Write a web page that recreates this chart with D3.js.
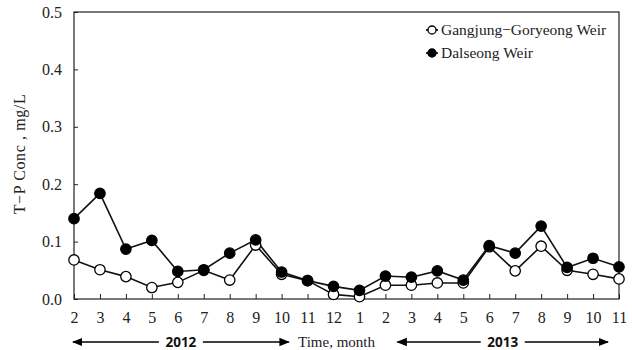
<!DOCTYPE html>
<html><head><meta charset="utf-8">
<script src="https://cdn.jsdelivr.net/npm/d3@7"></script>
<style>body{margin:0;background:#fff}svg{display:block}</style>
</head><body>
<svg id="c" width="632" height="350"></svg>
<script>
const months = ["2","3","4","5","6","7","8","9","10","11","12","1","2","3","4","5","6","7","8","9","10","11"];
const gangjung = [0.068,0.051,0.039,0.020,0.029,0.050,0.033,0.094,0.043,0.032,0.008,0.004,0.024,0.024,0.028,0.028,0.091,0.049,0.092,0.050,0.043,0.035];
const dalseong = [0.140,0.184,0.087,0.102,0.048,0.051,0.080,0.103,0.047,0.032,0.022,0.015,0.040,0.038,0.049,0.033,0.093,0.080,0.127,0.055,0.071,0.056];
const yTicks = [0,0.1,0.2,0.3,0.4,0.5];
const seriesNames = ["Gangjung\u2212Goryeong Weir","Dalseong Weir"];
const years = [{label:"2012", from:0, to:8.2},{label:"2013", from:12.5, to:20.5}];

const svg = d3.select("#c");
const L=74,R=619,T=12,B=299;
const x = d3.scaleLinear().domain([0,months.length-1]).range([L,R]);
const y = d3.scaleLinear().domain([0,0.5]).range([B,T]);
const serif = "'Liberation Serif','DejaVu Serif',serif";

// frame
svg.append("rect").attr("x",L).attr("y",T).attr("width",R-L).attr("height",B-T)
  .attr("fill","none").attr("stroke","#222").attr("stroke-width",1.2);

// y axis
const ya = svg.append("g").attr("transform",`translate(${L},0)`)
  .call(d3.axisRight(y).tickValues(yTicks).tickSize(4).tickFormat(d3.format(".1f")));
ya.select(".domain").remove();
ya.selectAll("line").attr("stroke","#222");
ya.selectAll("text").attr("x",-12).attr("text-anchor","end").attr("font-family",serif)
  .attr("font-size",16).attr("fill","#222");

// x axis
const xa = svg.append("g").attr("transform",`translate(0,${B})`)
  .call(d3.axisTop(x).tickValues(d3.range(months.length)).tickSize(5).tickFormat(i=>months[i]));
xa.select(".domain").remove();
xa.selectAll("line").attr("stroke","#222");
xa.selectAll("text").attr("y",24).attr("dy","0").attr("font-family",serif)
  .attr("font-size",16).attr("fill","#222");

// y title
svg.append("text").attr("transform","translate(25,154) rotate(-90)")
  .attr("text-anchor","middle").attr("font-family",serif).attr("font-size",16)
  .attr("letter-spacing",0.6).attr("fill","#222")
  .text("T\u2212P  Conc , mg/L");

// lines
const line = d3.line().x((d,i)=>x(i)).y(d=>y(d));
[dalseong,gangjung].forEach(data=>{
  svg.append("path").datum(data).attr("d",line).attr("fill","none").attr("stroke","#111").attr("stroke-width",1.6);
});
[[gangjung,"#fff"],[dalseong,"#000"]].forEach(([data,fill])=>{
  svg.append("g").selectAll("circle").data(data).join("circle")
    .attr("cx",(d,i)=>x(i)).attr("cy",d=>y(d)).attr("r",5.2)
    .attr("fill",fill).attr("stroke","#000").attr("stroke-width",1.3);
});

// legend
const lg = svg.append("g");
seriesNames.forEach((n,k)=>{
  const yy = 30 + k*23;
  lg.append("line").attr("x1",426).attr("x2",438).attr("y1",yy).attr("y2",yy).attr("stroke","#000").attr("stroke-width",1.6);
  lg.append("circle").attr("cx",432).attr("cy",yy).attr("r",4)
    .attr("fill",k===0?"#fff":"#000").attr("stroke","#000").attr("stroke-width",1.3);
  lg.append("text").attr("x",441).attr("y",yy+5).attr("font-family",serif).attr("font-size",15.5)
    .attr("fill","#222").text(n);
});

// year arrows
svg.append("defs").append("marker").attr("id","ah").attr("viewBox","0 0 10 10").attr("refX",9).attr("refY",5)
  .attr("markerWidth",7).attr("markerHeight",7).attr("orient","auto-start-reverse")
  .append("path").attr("d","M0,1 L10,5 L0,9 Z").attr("fill","#000");
const ay = 342;
years.forEach(yr=>{
  const x0 = x(yr.from)-1, x1 = x(yr.to)+2, cx=(x0+x1)/2;
  svg.append("line").attr("x1",cx-22).attr("x2",x0).attr("y1",ay).attr("y2",ay)
    .attr("stroke","#000").attr("stroke-width",1.5).attr("marker-end","url(#ah)");
  svg.append("line").attr("x1",cx+22).attr("x2",x1).attr("y1",ay).attr("y2",ay)
    .attr("stroke","#000").attr("stroke-width",1.5).attr("marker-end","url(#ah)");
  svg.append("text").attr("x",cx).attr("y",ay).attr("dy","0.35em").attr("text-anchor","middle")
    .attr("font-family","'Noto Sans','DejaVu Sans',sans-serif").attr("font-weight","bold")
    .attr("font-size",13.5).attr("fill","#111").text(yr.label);
});
svg.append("text").attr("x",298).attr("y",ay).attr("dy","0.35em").attr("font-family",serif).attr("font-size",15)
  .attr("fill","#222").text("Time, month");
</script>
</body></html>
